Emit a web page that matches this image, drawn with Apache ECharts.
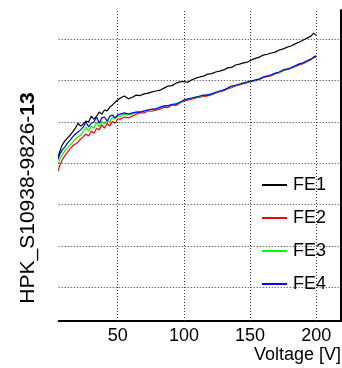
<!DOCTYPE html>
<html>
<head>
<meta charset="utf-8">
<script src="https://cdn.jsdelivr.net/npm/echarts@6/dist/echarts.min.js"></script>
<style>
html,body{margin:0;padding:0;background:#fff;}
#c{width:342px;height:368px;}
</style>
</head>
<body>
<div id="c"></div>
<script>
var voltage = [5,6,8,10,12,14,16,18,20,22,24,26,28,30,32,34,36,38,40,42,44,46,48,50,52,55,58,61,64,67,70,73,76,79,82,85,88,91,94,97,100,103,106,109,112,115,118,121,124,127,130,133,136,139,142,145,148,151,154,157,160,163,166,169,172,175,178,181,184,187,190,193,196,198,200];
var fe1 = [4.15,4.27,4.44,4.54,4.61,4.68,4.76,4.85,4.97,4.90,4.95,5.02,5.00,5.14,5.07,5.14,5.24,5.19,5.29,5.27,5.36,5.41,5.48,5.53,5.58,5.63,5.56,5.60,5.65,5.64,5.68,5.70,5.73,5.75,5.77,5.82,5.87,5.88,5.94,5.97,5.98,5.96,6.02,6.06,6.09,6.11,6.16,6.17,6.21,6.23,6.26,6.31,6.32,6.38,6.40,6.43,6.45,6.50,6.54,6.57,6.62,6.64,6.67,6.69,6.74,6.77,6.81,6.84,6.89,6.93,6.98,7.03,7.08,7.15,7.10];
var fe2 = [3.81,3.93,4.08,4.18,4.27,4.35,4.42,4.47,4.51,4.59,4.64,4.71,4.66,4.78,4.73,4.85,4.81,4.93,4.85,4.97,4.90,5.02,4.97,5.07,5.07,5.12,5.10,5.14,5.19,5.22,5.22,5.27,5.26,5.29,5.31,5.36,5.35,5.41,5.40,5.46,5.51,5.53,5.55,5.58,5.60,5.62,5.63,5.66,5.70,5.73,5.76,5.80,5.83,5.87,5.90,5.93,5.95,5.98,6.00,6.03,6.07,6.10,6.12,6.17,6.19,6.24,6.27,6.30,6.34,6.38,6.41,6.46,6.51,6.55,6.58];
var fe3 = [3.98,4.08,4.20,4.30,4.37,4.44,4.51,4.59,4.64,4.68,4.78,4.88,4.78,4.90,4.85,5.00,4.88,5.02,4.95,5.05,5.00,5.12,5.07,5.14,5.14,5.19,5.17,5.19,5.24,5.25,5.26,5.30,5.30,5.33,5.35,5.38,5.40,5.42,5.45,5.47,5.52,5.55,5.57,5.61,5.62,5.64,5.67,5.67,5.71,5.74,5.78,5.81,5.85,5.89,5.91,5.95,5.96,6.00,6.01,6.05,6.08,6.12,6.13,6.19,6.20,6.25,6.29,6.30,6.35,6.41,6.42,6.47,6.53,6.56,6.60];
var fe4 = [4.10,4.20,4.32,4.39,4.49,4.56,4.64,4.71,4.76,4.81,4.88,5.00,4.88,4.97,5.00,5.12,4.97,5.10,5.12,5.02,5.14,5.17,5.10,5.17,5.19,5.22,5.19,5.22,5.24,5.24,5.27,5.29,5.31,5.31,5.36,5.39,5.39,5.43,5.43,5.48,5.53,5.56,5.58,5.60,5.63,5.65,5.65,5.68,5.72,5.75,5.77,5.82,5.87,5.89,5.92,5.94,5.97,5.99,6.02,6.04,6.09,6.11,6.14,6.18,6.21,6.26,6.28,6.31,6.36,6.40,6.43,6.48,6.52,6.57,6.60];
var names = ['FE1','FE2','FE3','FE4'];
var colors = ['#000000','#ff0000','#00ff00','#0000ff'];
var xTicks = [50,100,150,200];
var yGrid = [1,2,3,4,5,6,7];

function pairs(ys){ return voltage.map(function(v,i){ return [v, ys[i]]; }); }
var seriesVals = [fe1, fe2, fe3, fe4];

var chart = echarts.init(document.getElementById('c'), null, {renderer:'canvas'});
var gridMarks = xTicks.map(function(v){ return {xAxis: v}; }).concat(yGrid.map(function(v){ return {yAxis: v}; }));
var series = [{
  type:'line', name:'grid', data:[], silent:true, z:1,
  markLine:{ silent:true, symbol:['none','none'], animation:false, label:{show:false},
    lineStyle:{color:'#333', width:1, type:[1,2]}, emphasis:{disabled:true}, data: gridMarks }
}];
seriesVals.forEach(function(vals, i){
  series.push({ type:'line', name:names[i], data:pairs(vals), symbol:'none', z:3,
    lineStyle:{color:colors[i], width:1.2}, itemStyle:{color:colors[i]} });
});

chart.setOption({
  animation:false,
  backgroundColor:'#fff',
  textStyle:{fontFamily:'Liberation Sans, Arial, sans-serif'},
  grid:{left:58.7, right:1, top:10, bottom:47},
  xAxis:{ type:'value', min:5.4, max:218.7,
    axisLine:{show:true, onZero:false, lineStyle:{color:'#000', width:2}},
    axisTick:{show:false},
    splitLine:{show:false},
    axisLabel:{customValues:xTicks, color:'#000', fontSize:18, margin:6, fontFamily:'Liberation Sans, Arial, sans-serif'} },
  yAxis:{ type:'value', position:'right', min:0.185, max:7.71,
    axisLine:{show:true, lineStyle:{color:'#000', width:2}},
    axisTick:{show:false}, axisLabel:{show:false}, splitLine:{show:false} },
  legend:{ data:names, orient:'vertical', left:262, top:176, padding:0, itemGap:15,
    itemWidth:25, itemHeight:2, icon:'rect',
    textStyle:{color:'#000', fontSize:18, fontFamily:'Liberation Sans, Arial, sans-serif', padding:[0,0,0,1]} },
  graphic:[
    { type:'text', x:341, y:355, style:{ text:'Voltage [V]', fill:'#000', font:'18px "Liberation Sans", Arial, sans-serif', align:'right', verticalAlign:'middle' } },
    { type:'text', x:28, y:198, rotation:Math.PI/2, style:{ text:'{a|HPK_S10938-9826-}{b|13}', align:'center', verticalAlign:'middle',
      rich:{ a:{fontSize:21, fontFamily:'Liberation Sans', fill:'#000', color:'#000'}, b:{fontSize:21, fontFamily:'Liberation Sans', fontWeight:'bold', fill:'#000', color:'#000'} } } }
  ],
  series: series
});
</script>
</body>
</html>
